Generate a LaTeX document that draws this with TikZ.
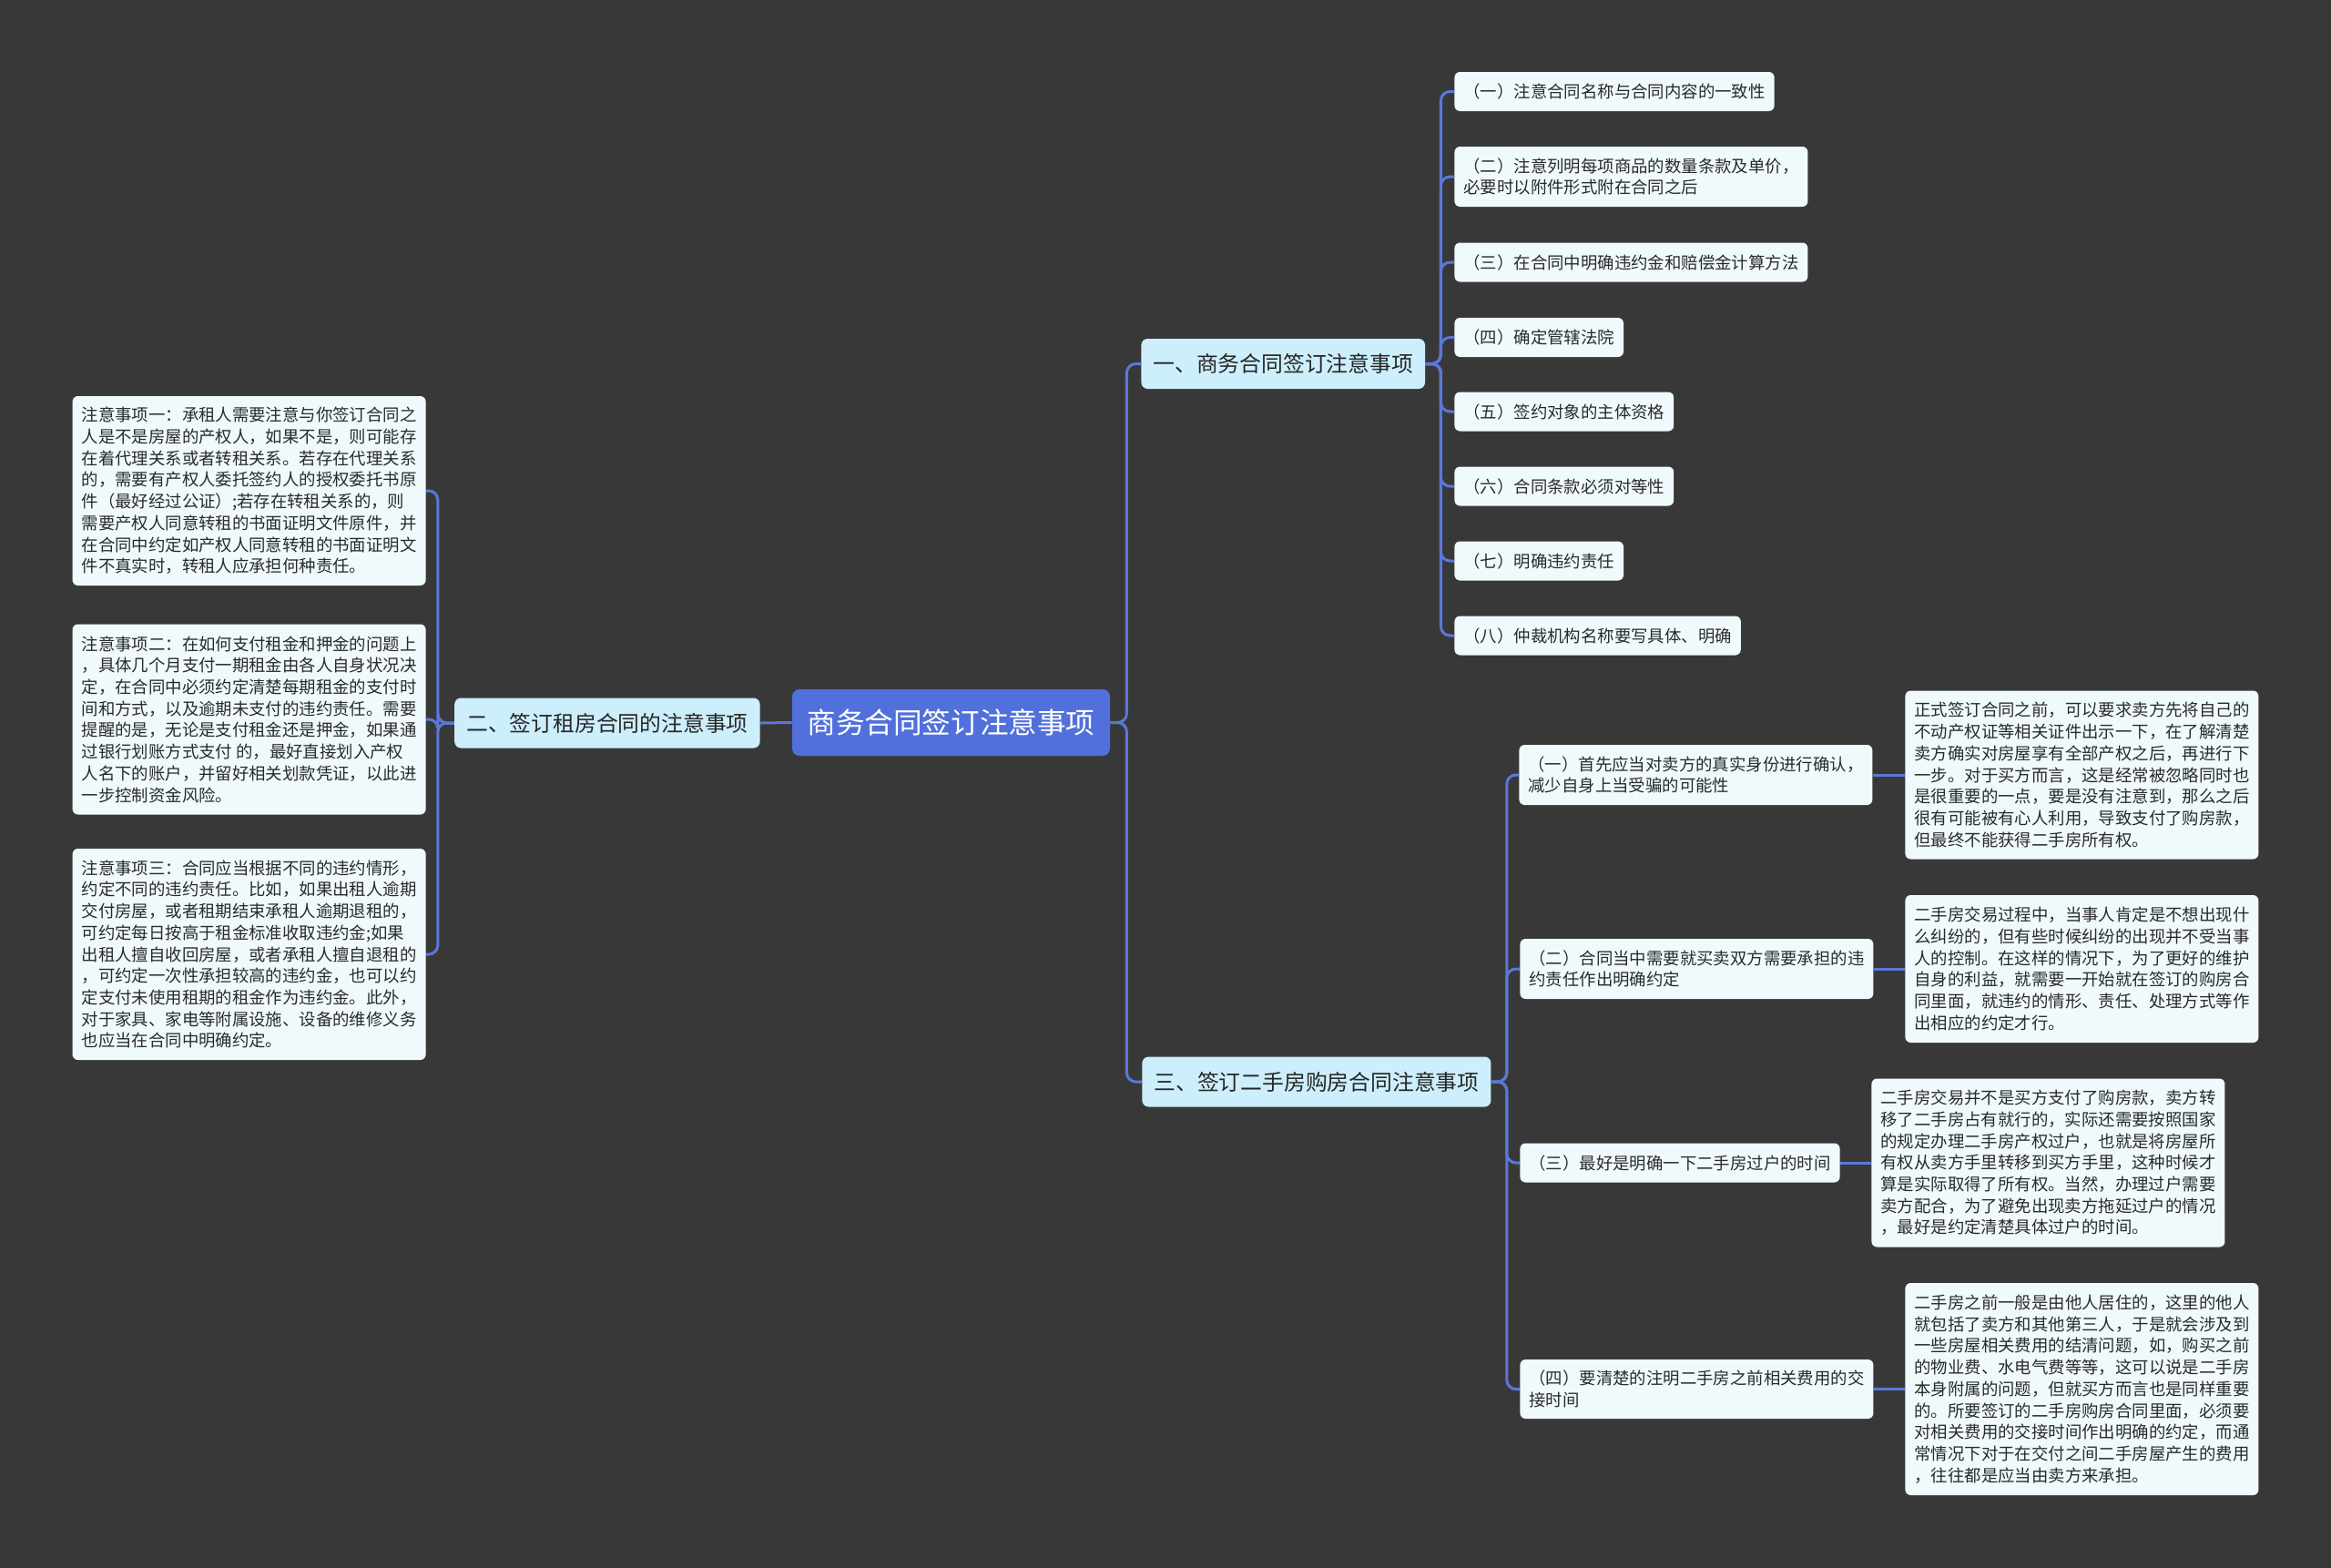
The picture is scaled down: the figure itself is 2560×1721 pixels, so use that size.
\documentclass[tikz,border=0pt]{standalone}
\usepackage{fontspec}
\newfontfamily\cjk{Noto Sans CJK SC}
\definecolor{bgc}{HTML}{393839}
\definecolor{linec}{HTML}{5A78D8}
\definecolor{rootc}{HTML}{5270DB}
\definecolor{midc}{HTML}{CDEEFB}
\definecolor{leafc}{HTML}{F0FAFC}
\definecolor{txtc}{HTML}{2A2A2A}
\tikzset{
  rootbox/.style={fill=rootc, rounded corners=4pt, text=white,
    font=\cjk\fontsize{15.8pt}{19pt}\selectfont, inner sep=0pt,
    minimum width=174.5pt, minimum height=36.5pt},
  midbox/.style={fill=midc, rounded corners=3.5pt, text=black!85,
    font=\cjk\fontsize{11.9pt}{14pt}\selectfont, inner xsep=6.5pt,
    inner ysep=0pt, minimum height=27.5pt},
  leafbox/.style={fill=leafc, rounded corners=3pt, text=txtc,
    font=\cjk\fontsize{9.2pt}{11.85pt}\selectfont, align=left,
    inner xsep=5pt, inner ysep=0pt, minimum height=21.5pt},
  conn/.style={draw=linec, line width=1.5pt, rounded corners=5pt},
}
\begin{document}
\begin{tikzpicture}[x=0.5pt,y=-0.5pt]
\useasboundingbox (0,0) rectangle (2560,1721);
\fill[bgc] (-10,-10) rectangle (2570,1731);

% root and main branches
\node[rootbox] (root) at (1044.5,793.5) {商务合同签订注意事项};
\node[midbox, anchor=east] (b2) at (835,794) {二、签订租房合同的注意事项};
\node[midbox, anchor=west] (b1) at (1253,399.5) {一、商务合同签订注意事项};
\node[midbox, anchor=west] (b3) at (1254,1188) {三、签订二手房购房合同注意事项};

% left leaves
\node[leafbox, anchor=east, minimum height=104pt] (l1) at (468,539) {注意事项一：承租人需要注意与你签订合同之\\人是不是房屋的产权人，如果不是，则可能存\\在着代理关系或者转租关系。若存在代理关系\\的，需要有产权人委托签约人的授权委托书原\\件（最好经过公证）;若存在转租关系的，则\\需要产权人同意转租的书面证明文件原件，并\\在合同中约定如产权人同意转租的书面证明文\\件不真实时，转租人应承担何种责任。};
\node[leafbox, anchor=east, minimum height=104.5pt] (l2) at (468,790) {注意事项二：在如何支付租金和押金的问题上\\，具体几个月支付一期租金由各人自身状况决\\定，在合同中必须约定清楚每期租金的支付时\\间和方式，以及逾期未支付的违约责任。需要\\提醒的是，无论是支付租金还是押金，如果通\\过银行划账方式支付 的，最好直接划入产权\\人名下的账户，并留好相关划款凭证，以此进\\一步控制资金风险。};
\node[leafbox, anchor=east, minimum height=116pt] (l3) at (468,1048) {注意事项三：合同应当根据不同的违约情形，\\约定不同的违约责任。比如，如果出租人逾期\\交付房屋，或者租期结束承租人逾期退租的，\\可约定每日按高于租金标准收取违约金;如果\\出租人擅自收回房屋，或者承租人擅自退租的\\，可约定一次性承担较高的违约金，也可以约\\定支付未使用租期的租金作为违约金。此外，\\对于家具、家电等附属设施、设备的维修义务\\也应当在合同中明确约定。};

% top right leaves
\node[leafbox, anchor=west] (t1) at (1597,100.5) {（一）注意合同名称与合同内容的一致性};
\node[leafbox, anchor=west, minimum height=33pt] (t2) at (1597,194) {（二）注意列明每项商品的数量条款及单价，\\必要时以附件形式附在合同之后};
\node[leafbox, anchor=west] (t3) at (1597,288) {（三）在合同中明确违约金和赔偿金计算方法};
\node[leafbox, anchor=west] (t4) at (1597,370.5) {（四）确定管辖法院};
\node[leafbox, anchor=west] (t5) at (1597,452) {（五）签约对象的主体资格};
\node[leafbox, anchor=west] (t6) at (1597,534) {（六）合同条款必须对等性};
\node[leafbox, anchor=west] (t7) at (1597,616) {（七）明确违约责任};
\node[leafbox, anchor=west] (t8) at (1597,698) {（八）仲裁机构名称要写具体、明确};

% bottom right labels
\node[leafbox, anchor=west, minimum height=33pt] (r1) at (1668,851) {（一）首先应当对卖方的真实身份进行确认，\\减少自身上当受骗的可能性};
\node[leafbox, anchor=west, minimum height=33pt] (r2) at (1669,1064) {（二）合同当中需要就买卖双方需要承担的违\\约责任作出明确约定};
\node[leafbox, anchor=west] (r3) at (1669,1277) {（三）最好是明确一下二手房过户的时间};
\node[leafbox, anchor=west, minimum height=32.5pt] (r4) at (1669,1525.5) {（四）要清楚的注明二手房之前相关费用的交\\接时间};

% bottom right details
\node[leafbox, anchor=west, minimum height=92.5pt] (d1) at (2092,851) {正式签订合同之前，可以要求卖方先将自己的\\不动产权证等相关证件出示一下，在了解清楚\\卖方确实对房屋享有全部产权之后，再进行下\\一步。对于买方而言，这是经常被忽略同时也\\是很重要的一点，要是没有注意到，那么之后\\很有可能被有心人利用，导致支付了购房款，\\但最终不能获得二手房所有权。};
\node[leafbox, anchor=west, minimum height=81pt] (d2) at (2092,1064) {二手房交易过程中，当事人肯定是不想出现什\\么纠纷的，但有些时候纠纷的出现并不受当事\\人的控制。在这样的情况下，为了更好的维护\\自身的利益，就需要一开始就在签订的购房合\\同里面，就违约的情形、责任、处理方式等作\\出相应的约定才行。};
\node[leafbox, anchor=west, minimum height=92.5pt] (d3) at (2055,1277) {二手房交易并不是买方支付了购房款，卖方转\\移了二手房占有就行的，实际还需要按照国家\\的规定办理二手房产权过户，也就是将房屋所\\有权从卖方手里转移到买方手里，这种时候才\\算是实际取得了所有权。当然，办理过户需要\\卖方配合，为了避免出现卖方拖延过户的情况\\，最好是约定清楚具体过户的时间。};
\node[leafbox, anchor=west, minimum height=116.5pt] (d4) at (2092,1525.5) {二手房之前一般是由他人居住的，这里的他人\\就包括了卖方和其他第三人，于是就会涉及到\\一些房屋相关费用的结清问题，如，购买之前\\的物业费、水电气费等等，这可以说是二手房\\本身附属的问题，但就买方而言也是同样重要\\的。所要签订的二手房购房合同里面，必须要\\对相关费用的交接时间作出明确的约定，而通\\常情况下对于在交付之间二手房屋产生的费用\\，往往都是应当由卖方来承担。};

% connectors
\draw[conn] (root.west) -- (b2.east);
\draw[conn] (root.east) -- ++(18,0) |- (b1.west);
\draw[conn] (root.east) -- ++(18,0) |- (b3.west);
\foreach \n in {l1,l2,l3} {\draw[conn] (b2.west) -- ++(-18,0) |- (\n.east);}
\foreach \n in {t1,t2,t3,t4,t5,t6,t7,t8} {\draw[conn] (b1.east) -- ++(17,0) |- (\n.west);}
\foreach \n in {r1,r2,r3,r4} {\draw[conn] (b3.east) -- ++(17,0) |- (\n.west);}
\draw[conn] (r1.east) -- (d1.west);
\draw[conn] (r2.east) -- (d2.west);
\draw[conn] (r3.east) -- (d3.west);
\draw[conn] (r4.east) -- (d4.west);
\end{tikzpicture}
\end{document}
